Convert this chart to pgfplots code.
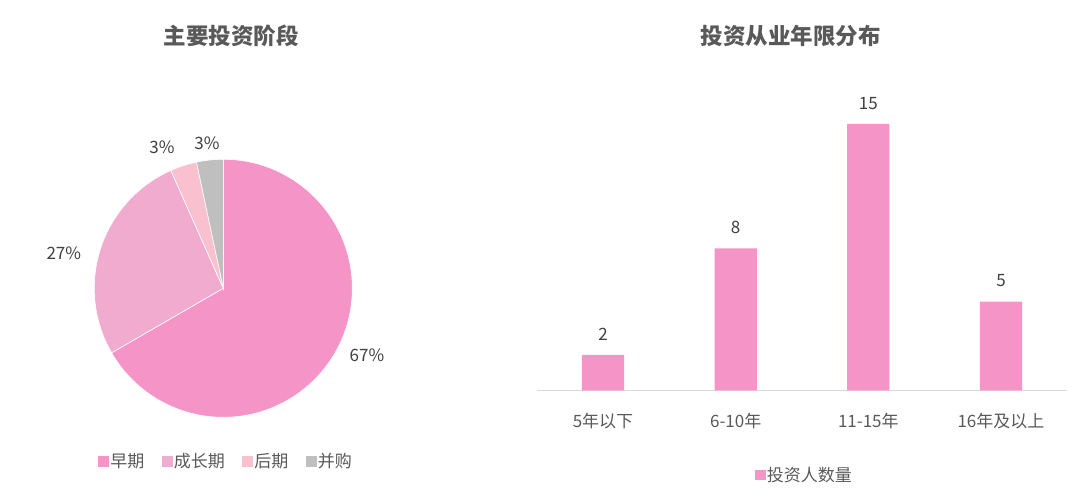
\documentclass[border=0pt]{standalone}
\usepackage{fontspec}
\setmainfont{Noto Sans CJK SC}
\usepackage{pgfplots}
\pgfplotsset{compat=1.18}

\definecolor{early}{HTML}{F594C6}
\definecolor{growth}{HTML}{F1ABCF}
\definecolor{late}{HTML}{F9C0D0}
\definecolor{ma}{HTML}{BFBFBF}
\definecolor{txt}{HTML}{595959}
\definecolor{lbl}{HTML}{404040}
\definecolor{axisc}{HTML}{D9D9D9}

\newcommand\lblfont{\fontsize{17}{20}\selectfont}

\pgfplotsset{
  sqlegend/.style={
    legend image code/.code={\path[##1] (0pt,-5.3pt) rectangle (10.6pt,5.3pt);},
    legend style={draw=none, fill=none, font=\lblfont, text=txt,
      nodes={inner sep=1.2pt},
      /tikz/every even column/.append style={column sep=16.5pt}},
  },
}

\begin{document}
\begin{tikzpicture}
\useasboundingbox (0,0) rectangle (1080pt,502pt);

% titles
\node[anchor=base, font=\bfseries\fontsize{22.5}{26}\selectfont, text=txt] at (231pt,457pt) {主要投资阶段};
\node[anchor=base, font=\bfseries\fontsize{22.5}{26}\selectfont, text=txt] at (790.5pt,457pt) {投资从业年限分布};

% pie: 20, 8, 1, 1 investors out of 30
\pgfmathsetmacro\aA{90-360*20/30}
\pgfmathsetmacro\aB{\aA-360*8/30}
\pgfmathsetmacro\aC{\aB-360*1/30}
\pgfmathsetmacro\aD{\aC-360*1/30}

\begin{axis}[
  at={(223.3pt,213.7pt)}, anchor=center,
  x=1pt, y=1pt,
  xmin=-140, xmax=140, ymin=-140, ymax=140,
  hide axis, clip=false,
  sqlegend,
  legend columns=4,
  legend style={at={(0.5086,-0.1186)}, anchor=center},
]
\fill[early, draw=white, line width=0.6pt] (axis cs:0,0) -- ++(90:129pt) arc[start angle=90, end angle=\aA, radius=129pt] -- cycle;
\fill[growth, draw=white, line width=0.6pt] (axis cs:0,0) -- ++(\aA:129pt) arc[start angle=\aA, end angle=\aB, radius=129pt] -- cycle;
\fill[late, draw=white, line width=0.6pt] (axis cs:0,0) -- ++(\aB:129pt) arc[start angle=\aB, end angle=\aC, radius=129pt] -- cycle;
\fill[ma, draw=white, line width=0.6pt] (axis cs:0,0) -- ++(\aC:129pt) arc[start angle=\aC, end angle=\aD, radius=129pt] -- cycle;

\node[anchor=base, font=\lblfont, text=lbl] at (axis cs:143.7,-73.7) {67\%};
\node[anchor=base, font=\lblfont, text=lbl] at (axis cs:-159.5,28.3) {27\%};
\node[anchor=base, font=\lblfont, text=lbl] at (axis cs:-61.3,135) {3\%};
\node[anchor=base, font=\lblfont, text=lbl] at (axis cs:-16.3,138.3) {3\%};

\addlegendimage{fill=early, draw=none}
\addlegendentry{早期}
\addlegendimage{fill=growth, draw=none}
\addlegendentry{成长期}
\addlegendimage{fill=late, draw=none}
\addlegendentry{后期}
\addlegendimage{fill=ma, draw=none}
\addlegendentry{并购}
\end{axis}

% bars
\begin{axis}[
  at={(536.7pt,111.5pt)}, anchor=south west,
  x=132.65pt, y=17.77pt,
  xmin=-0.5, xmax=3.5, ymin=0, ymax=16,
  axis x line=bottom, axis y line=none,
  axis line style={draw=axisc, line width=1pt, -},
  xtick={0,1,2,3},
  xticklabels={5年以下,6-10年,11-15年,16年及以上},
  ytick=\empty,
  major tick length=0pt,
  xticklabel style={font=\lblfont, text=txt, anchor=base, inner sep=0pt, yshift=-37pt},
  /pgf/number format/assume math mode=true,
  ybar, bar width=42.3pt, bar shift=0pt,
  nodes near coords,
  every node near coord/.append style={font=\lblfont, text=lbl, inner sep=0pt, yshift=14.5pt},
  clip=false,
  sqlegend,
  legend style={at={(0.5038,-0.2972)}, anchor=center},
]
\addplot[fill=early, draw=none, forget plot] coordinates {(0,2) (1,8) (2,15) (3,5)};
\addlegendimage{fill=early, draw=none}
\addlegendentry{投资人数量}
\end{axis}
\end{tikzpicture}
\end{document}
